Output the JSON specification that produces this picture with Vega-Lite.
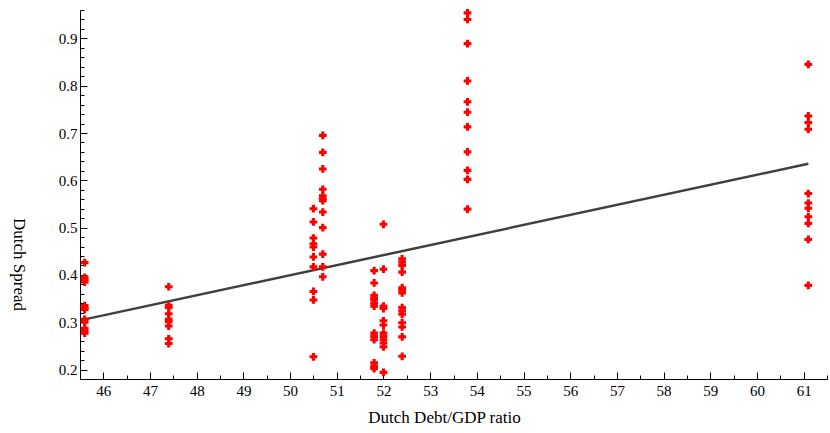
{
  "$schema": "https://vega.github.io/schema/vega-lite/v6.json",
  "autosize": {"type": "none"},
  "padding": {"left": 80, "top": 10, "right": 3, "bottom": 54},
  "width": 747,
  "height": 369,
  "background": "white",
  "config": {
    "view": {"stroke": null},
    "axis": {
      "labelFont": "Liberation Serif",
      "labelFontSize": 15,
      "labelColor": "black",
      "titleFont": "Liberation Serif",
      "titleFontSize": 17,
      "titleFontWeight": "normal",
      "titleColor": "black",
      "domainColor": "black",
      "tickColor": "black",
      "grid": false
    }
  },
  "datasets": {
    "fit": [
      {"ratio": 45.6, "spread": 0.306},
      {"ratio": 61.1, "spread": 0.635}
    ],
    "obs": [
      {"ratio": 45.6, "spread": 0.426}, {"ratio": 45.6, "spread": 0.395}, {"ratio": 45.6, "spread": 0.390}, {"ratio": 45.6, "spread": 0.385},
      {"ratio": 45.6, "spread": 0.335}, {"ratio": 45.6, "spread": 0.330}, {"ratio": 45.6, "spread": 0.327}, {"ratio": 45.6, "spread": 0.306},
      {"ratio": 45.6, "spread": 0.300}, {"ratio": 45.6, "spread": 0.287}, {"ratio": 45.6, "spread": 0.282}, {"ratio": 45.6, "spread": 0.277},
      {"ratio": 47.4, "spread": 0.375}, {"ratio": 47.4, "spread": 0.336}, {"ratio": 47.4, "spread": 0.331}, {"ratio": 47.4, "spread": 0.318},
      {"ratio": 47.4, "spread": 0.306}, {"ratio": 47.4, "spread": 0.301}, {"ratio": 47.4, "spread": 0.292}, {"ratio": 47.4, "spread": 0.265},
      {"ratio": 47.4, "spread": 0.255},
      {"ratio": 50.5, "spread": 0.540}, {"ratio": 50.5, "spread": 0.512}, {"ratio": 50.5, "spread": 0.478}, {"ratio": 50.5, "spread": 0.466},
      {"ratio": 50.5, "spread": 0.459}, {"ratio": 50.5, "spread": 0.438}, {"ratio": 50.5, "spread": 0.417}, {"ratio": 50.5, "spread": 0.365},
      {"ratio": 50.5, "spread": 0.347}, {"ratio": 50.5, "spread": 0.227},
      {"ratio": 50.7, "spread": 0.695}, {"ratio": 50.7, "spread": 0.659}, {"ratio": 50.7, "spread": 0.624}, {"ratio": 50.7, "spread": 0.581},
      {"ratio": 50.7, "spread": 0.567}, {"ratio": 50.7, "spread": 0.561}, {"ratio": 50.7, "spread": 0.557}, {"ratio": 50.7, "spread": 0.533},
      {"ratio": 50.7, "spread": 0.500}, {"ratio": 50.7, "spread": 0.444}, {"ratio": 50.7, "spread": 0.417}, {"ratio": 50.7, "spread": 0.396},
      {"ratio": 51.8, "spread": 0.409}, {"ratio": 51.8, "spread": 0.383}, {"ratio": 51.8, "spread": 0.357}, {"ratio": 51.8, "spread": 0.351},
      {"ratio": 51.8, "spread": 0.347}, {"ratio": 51.8, "spread": 0.340}, {"ratio": 51.8, "spread": 0.334}, {"ratio": 51.8, "spread": 0.277},
      {"ratio": 51.8, "spread": 0.270}, {"ratio": 51.8, "spread": 0.263}, {"ratio": 51.8, "spread": 0.214}, {"ratio": 51.8, "spread": 0.207},
      {"ratio": 51.8, "spread": 0.202},
      {"ratio": 52.0, "spread": 0.507}, {"ratio": 52.0, "spread": 0.412}, {"ratio": 52.0, "spread": 0.334}, {"ratio": 52.0, "spread": 0.329},
      {"ratio": 52.0, "spread": 0.303}, {"ratio": 52.0, "spread": 0.294}, {"ratio": 52.0, "spread": 0.277}, {"ratio": 52.0, "spread": 0.270},
      {"ratio": 52.0, "spread": 0.263}, {"ratio": 52.0, "spread": 0.256}, {"ratio": 52.0, "spread": 0.248}, {"ratio": 52.0, "spread": 0.194},
      {"ratio": 52.4, "spread": 0.434}, {"ratio": 52.4, "spread": 0.427}, {"ratio": 52.4, "spread": 0.420}, {"ratio": 52.4, "spread": 0.406},
      {"ratio": 52.4, "spread": 0.373}, {"ratio": 52.4, "spread": 0.368}, {"ratio": 52.4, "spread": 0.362}, {"ratio": 52.4, "spread": 0.331},
      {"ratio": 52.4, "spread": 0.324}, {"ratio": 52.4, "spread": 0.317}, {"ratio": 52.4, "spread": 0.299}, {"ratio": 52.4, "spread": 0.290},
      {"ratio": 52.4, "spread": 0.269}, {"ratio": 52.4, "spread": 0.228},
      {"ratio": 53.8, "spread": 0.954}, {"ratio": 53.8, "spread": 0.940}, {"ratio": 53.8, "spread": 0.889}, {"ratio": 53.8, "spread": 0.810},
      {"ratio": 53.8, "spread": 0.766}, {"ratio": 53.8, "spread": 0.744}, {"ratio": 53.8, "spread": 0.713}, {"ratio": 53.8, "spread": 0.660},
      {"ratio": 53.8, "spread": 0.621}, {"ratio": 53.8, "spread": 0.602}, {"ratio": 53.8, "spread": 0.539},
      {"ratio": 61.1, "spread": 0.845}, {"ratio": 61.1, "spread": 0.736}, {"ratio": 61.1, "spread": 0.722}, {"ratio": 61.1, "spread": 0.708},
      {"ratio": 61.1, "spread": 0.572}, {"ratio": 61.1, "spread": 0.552}, {"ratio": 61.1, "spread": 0.541}, {"ratio": 61.1, "spread": 0.523},
      {"ratio": 61.1, "spread": 0.509}, {"ratio": 61.1, "spread": 0.475}, {"ratio": 61.1, "spread": 0.378}
    ]
  },
  "resolve": {"axis": {"x": "independent", "y": "independent"}},
  "layer": [
    {
      "data": {"name": "fit"},
      "mark": {"type": "line", "color": "#404040", "strokeWidth": 2.5},
      "encoding": {
        "x": {
          "field": "ratio", "type": "quantitative",
          "scale": {"domain": [45.5, 61.5], "nice": false, "zero": false},
          "axis": {
            "orient": "bottom",
            "values": [45.5, 46.5, 47.5, 48.5, 49.5, 50.5, 51.5, 52.5, 53.5, 54.5, 55.5, 56.5, 57.5, 58.5, 59.5, 60.5, 61.5],
            "labels": false, "title": null, "domain": false, "tickSize": -4
          }
        },
        "y": {
          "field": "spread", "type": "quantitative",
          "scale": {"domain": [0.18, 0.96], "nice": false, "zero": false},
          "axis": {
            "orient": "left",
            "values": [0.18, 0.22, 0.24, 0.26, 0.28, 0.32, 0.34, 0.36, 0.38, 0.42, 0.44, 0.46, 0.48, 0.52, 0.54, 0.56, 0.58, 0.62, 0.64, 0.66, 0.68, 0.72, 0.74, 0.76, 0.78, 0.82, 0.84, 0.86, 0.88, 0.92, 0.94, 0.96],
            "labels": false, "title": null, "domain": false, "tickSize": -4
          }
        }
      }
    },
    {
      "data": {"name": "obs"},
      "mark": {"type": "point", "shape": "cross", "filled": true, "color": "#ff0000", "size": 60, "opacity": 1},
      "encoding": {
        "x": {
          "field": "ratio", "type": "quantitative",
          "axis": {
            "orient": "bottom",
            "values": [46, 47, 48, 49, 50, 51, 52, 53, 54, 55, 56, 57, 58, 59, 60, 61],
            "format": "d", "tickSize": -7, "labelPadding": 11,
            "title": "Dutch Debt/GDP ratio", "titleX": 364, "titleY": 43, "titleBaseline": "alphabetic"
          }
        },
        "y": {
          "field": "spread", "type": "quantitative",
          "axis": {
            "orient": "left",
            "values": [0.2, 0.3, 0.4, 0.5, 0.6, 0.7, 0.8, 0.9],
            "format": ".1f", "tickSize": -7, "labelPadding": 10,
            "title": "Dutch Spread", "titleAngle": 90, "titleX": -62, "titleY": 254, "titleBaseline": "middle"
          }
        }
      }
    }
  ]
}
